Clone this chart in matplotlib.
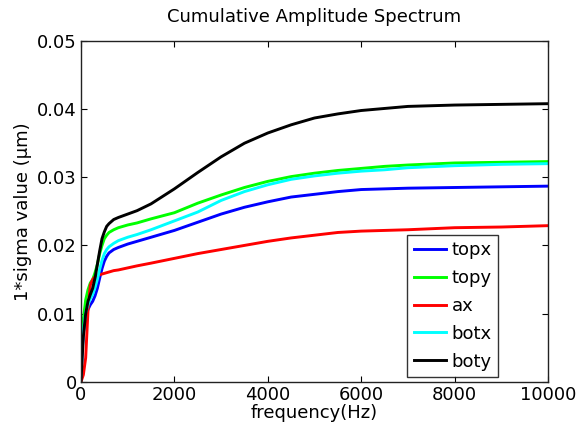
import matplotlib
matplotlib.use("Agg")
import matplotlib.pyplot as plt

freq = [0, 25, 50, 100, 150, 200, 250, 300, 350, 400, 450, 500, 550, 600, 700, 800,
        1000, 1200, 1500, 2000, 2500, 3000, 3500, 4000, 4500, 5000, 5500, 6000,
        6500, 7000, 8000, 9000, 10000]

topx = [0.0005, 0.0045, 0.0072, 0.0095, 0.0106, 0.0113, 0.0118, 0.0126, 0.0137, 0.0152,
        0.0166, 0.0177, 0.0184, 0.0189, 0.0194, 0.0197, 0.0202, 0.0206, 0.0212, 0.0222,
        0.0234, 0.0246, 0.0256, 0.0264, 0.0271, 0.0275, 0.0279, 0.0282, 0.0283, 0.0284,
        0.0285, 0.0286, 0.0287]
topy = [0.002, 0.0065, 0.0092, 0.0120, 0.0135, 0.0145, 0.0150, 0.0160, 0.0172, 0.0188,
        0.0200, 0.0210, 0.0215, 0.0219, 0.0223, 0.0226, 0.0230, 0.0233, 0.0239, 0.0248,
        0.0262, 0.0274, 0.0285, 0.0294, 0.0301, 0.0306, 0.0310, 0.0313, 0.0316, 0.0318,
        0.0321, 0.0322, 0.0323]
ax_ = [0.0, 0.0005, 0.0010, 0.0035, 0.0105, 0.0142, 0.0150, 0.0154, 0.0156, 0.0157,
       0.0158, 0.0159, 0.0160, 0.0161, 0.0163, 0.0164, 0.0167, 0.0170, 0.0174, 0.0181,
       0.0188, 0.0194, 0.0200, 0.0206, 0.0211, 0.0215, 0.0219, 0.0221, 0.0222, 0.0223,
       0.0226, 0.0227, 0.0229]
botx = [0.001, 0.0050, 0.0075, 0.0102, 0.0113, 0.0122, 0.0128, 0.0138, 0.0150, 0.0165,
        0.0178, 0.0188, 0.0194, 0.0198, 0.0203, 0.0207, 0.0212, 0.0216, 0.0223, 0.0236,
        0.0249, 0.0266, 0.0279, 0.0289, 0.0297, 0.0302, 0.0306, 0.0309, 0.0311, 0.0314,
        0.0317, 0.0319, 0.0320]
boty = [0.0, 0.0035, 0.0066, 0.0100, 0.0118, 0.0128, 0.0137, 0.0152, 0.0172, 0.0192,
        0.0210, 0.0220, 0.0228, 0.0232, 0.0238, 0.0241, 0.0246, 0.0251, 0.0261, 0.0283,
        0.0307, 0.0330, 0.0350, 0.0365, 0.0377, 0.0387, 0.0393, 0.0398, 0.0401, 0.0404,
        0.0406, 0.0407, 0.0408]

series = [("topx", topx, "#0000ff"), ("topy", topy, "#00ff00"), ("ax", ax_, "#ff0000"),
          ("botx", botx, "#00ffff"), ("boty", boty, "#000000")]

plt.rcParams['font.family'] = ['DejaVu Sans']
FS = 13

fig = plt.figure(figsize=(5.79, 4.32), dpi=100)
ax = fig.add_axes([81/579, 1-381.7/432, 467/579, 340.7/432])

for name, vals, col in series:
    ax.plot(freq, vals, color=col, linewidth=2.1, label=name)

ax.set_xlim(0, 10000)
ax.set_ylim(0, 0.05)
ax.set_xticks([0, 2000, 4000, 6000, 8000, 10000])
ax.set_yticks([0, 0.01, 0.02, 0.03, 0.04, 0.05])
ax.set_yticklabels(["0", "0.01", "0.02", "0.03", "0.04", "0.05"])
ax.tick_params(direction='in', top=True, right=True, length=4, labelsize=FS, width=0.8,
               pad=3)
for s in ax.spines.values():
    s.set_linewidth(1.0)
    s.set_color('#222222')

ax.set_title("Cumulative Amplitude Spectrum", fontsize=FS, pad=14)
ax.set_xlabel("frequency(Hz)", fontsize=FS, labelpad=0)
ax.set_ylabel("1*sigma value (\u03bcm)", fontsize=FS, labelpad=4)

leg = ax.legend(loc='lower right', bbox_to_anchor=((498-81)/467, (381.7-377)/340.7),
                fontsize=FS, frameon=True, fancybox=False, edgecolor='black',
                borderaxespad=0, handlelength=1.8, handletextpad=0.3,
                labelspacing=0.55, borderpad=0.35)
leg.get_frame().set_linewidth(1.0)

fig.savefig("out.png", dpi=100)
